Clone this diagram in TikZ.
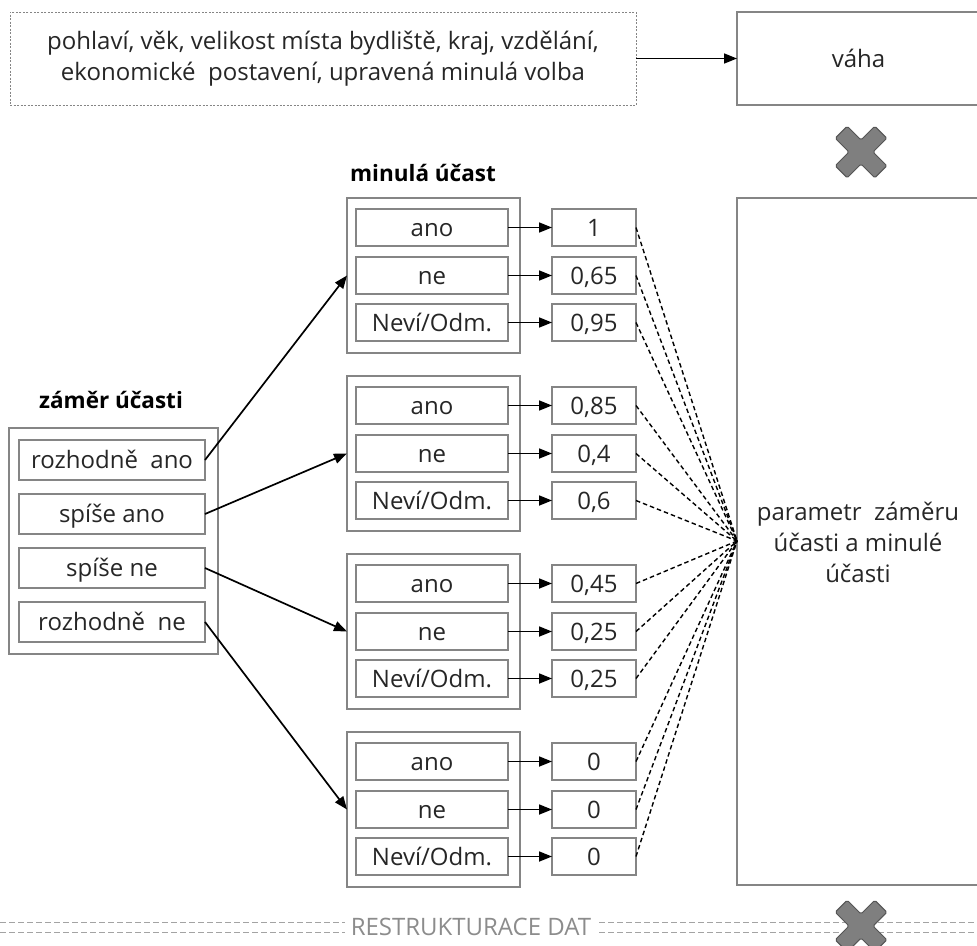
\documentclass[tikz,border=0pt]{standalone}
\usepackage{fontspec}
\setmainfont{Open Sans}
\usetikzlibrary{arrows.meta}
\definecolor{txt}{HTML}{262626}
\definecolor{bord}{HTML}{858585}
\definecolor{xfill}{HTML}{7F7F7F}
\definecolor{xedge}{HTML}{555555}
\definecolor{restr}{HTML}{8C8C8C}
\begin{document}
\begin{tikzpicture}[x=1pt,y=-1pt,
  every node/.style={font=\fontsize{24}{31}\selectfont, text=txt, inner sep=0pt, outer sep=0pt},
  box/.style={draw=bord, line width=1.4pt},
  cellbox/.style={box, text height=20pt, text depth=3pt},
  rowbox/.style={cellbox, minimum width=152pt, minimum height=37pt},
  valbox/.style={cellbox, minimum width=84pt, minimum height=37pt},
  grpbox/.style={box, minimum width=173pt, minimum height=155pt},
  lrowbox/.style={cellbox, minimum width=186pt, minimum height=40pt},
  title/.style={font=\fontsize{22.5}{26}\bfseries\selectfont, text=black},
  arr/.style={line width=1.7pt, black, -{Triangle[length=13pt,width=10pt]}},
  dline/.style={line width=1.4pt, black, dash pattern=on 4.5pt off 3pt},
  restrline/.style={line width=1pt, restr!80, dash pattern=on 6pt off 3pt},
  xmark/.pic={\filldraw[fill=xfill, draw=xedge, line width=1pt, rounded corners=1.5pt, rotate=45]
     (-8.5,-28) -- (8.5,-28) -- (8.5,-8.5) -- (28,-8.5) -- (28,8.5) -- (8.5,8.5) -- (8.5,28)
     -- (-8.5,28) -- (-8.5,8.5) -- (-28,8.5) -- (-28,-8.5) -- (-8.5,-8.5) -- cycle;}
]
\clip (0,0) rectangle (977,945);
\fill[white] (0,0) rectangle (977,945);

% top row
\node[draw=bord, line width=1pt, dash pattern=on 2pt off 1.5pt, minimum width=626pt, minimum height=93pt, align=center]
  (top) at (323,58.5) {pohlaví, věk, velikost místa bydliště, kraj, vzdělání,\\ekonomické~ postavení, upravená minulá volba};
\node[box, minimum width=243pt, minimum height=93pt] (vaha) at (858.5,58.5) {váha};
\draw[arr] (top.east) -- (vaha.west);
\pic at (861,152) {xmark};

% big right box
\node[box, minimum width=243pt, minimum height=687pt] (param) at (858.5,541.5) {};
\node[align=center] (ptext) at (858,542) {parametr~ záměru\\účasti a minulé\\účasti};
\coordinate (conv) at (737,541);

% left box
\node[title] (zlab) at (111,400) {záměr účasti};
\node[box, minimum width=209pt, minimum height=226pt] (lbox) at (113.5,541) {};
\node[lrowbox] (l0) at (112,460) {rozhodně~ ano};
\node[lrowbox] (l1) at (112,514) {spíše ano};
\node[lrowbox] (l2) at (112,568) {spíše ne};
\node[lrowbox] (l3) at (112,622) {rozhodně~ ne};

% groups
\node[title] (mlab) at (423,173) {minulá účast};
\foreach \k/\va/\vb/\vc in {0/{1}/{0,65}/{0,95}, 1/{0,85}/{0,4}/{0,6}, 2/{0,45}/{0,25}/{0,25}, 3/{0}/{0}/{0}}{
  \pgfmathsetmacro\gy{275.5+178*\k}
  \node[grpbox] (g\k) at (433.5,\gy) {};
  \node[rowbox] (r\k a) at (432,\gy-48) {ano};
  \node[rowbox] (r\k b) at (432,\gy) {ne};
  \node[rowbox] (r\k c) at (432,\gy+47) {Neví/Odm.};
  \node[valbox] (v\k a) at (594,\gy-48) {\va};
  \node[valbox] (v\k b) at (594,\gy) {\vb};
  \node[valbox] (v\k c) at (594,\gy+47) {\vc};
  \foreach \i in {a,b,c}{
    \draw[arr] (r\k\i.east) -- (v\k\i.west);
    \draw[dline] (v\k\i.east) -- (conv);
  }
}
\draw[arr] (l0.east) -- (g0.west);
\draw[arr] (l1.east) -- (g1.west);
\draw[arr] (l2.east) -- (g2.west);
\draw[arr] (l3.east) -- (g3.west);

% bottom restructuring line
\node[font=\fontsize{24}{28}\selectfont, text=restr] (restr) at (471,927) {RESTRUKTURACE DAT};
\draw[restrline] (0,922.5) -- ([xshift=-6pt]restr.west |- 0,922.5);
\draw[restrline] (0,932) -- ([xshift=-6pt]restr.west |- 0,932);
\draw[restrline] ([xshift=8pt]restr.east |- 0,922.5) -- (977,922.5);
\draw[restrline] ([xshift=8pt]restr.east |- 0,932) -- (977,932);
\pic at (861,926) {xmark};
\end{tikzpicture}
\end{document}
